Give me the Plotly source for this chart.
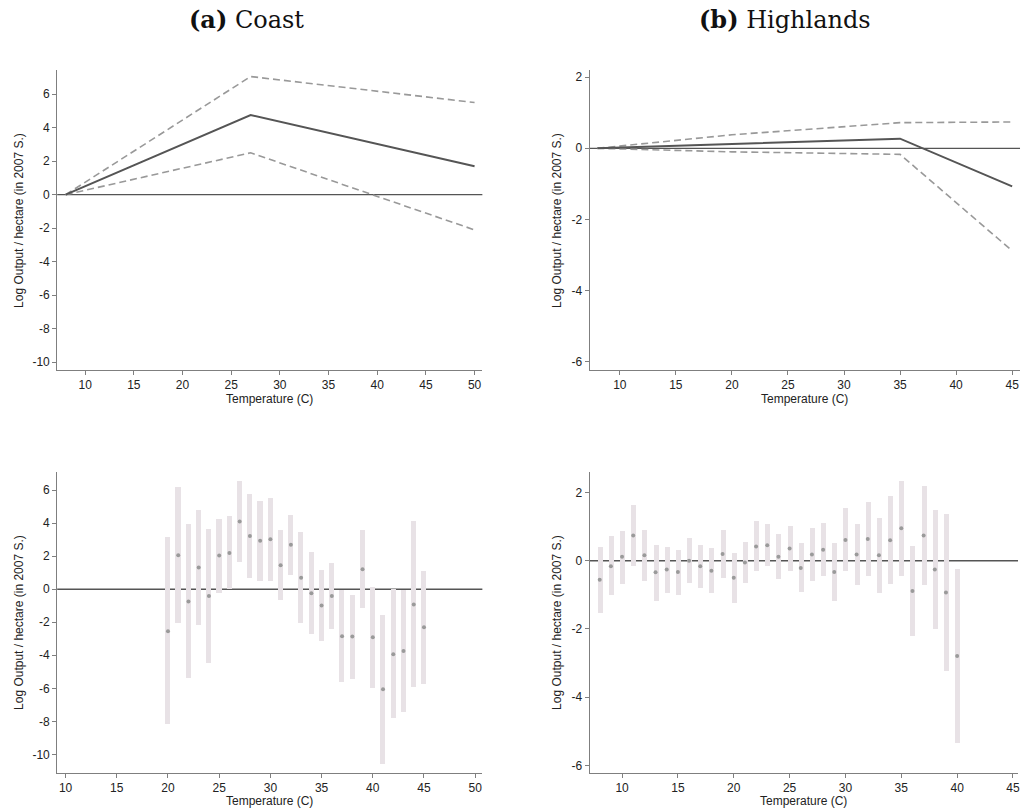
import plotly.graph_objects as go

# ---------------- data ----------------
# Top panels: piecewise linear fit with confidence bands
coast_x = [8, 27, 50]
coast_fit = [0, 4.75, 1.7]
coast_hi = [0, 7.05, 5.5]
coast_lo = [0, 2.5, -2.1]

high_x = [8, 20, 35, 45]
high_fit = [0, 0.12, 0.27, -1.07]
high_hi = [0, 0.38, 0.72, 0.74]
high_lo = [0, -0.10, -0.17, -2.88]

# Bottom panels: binned estimates with CI bars
coast_bins = list(range(20, 46))
coast_pt = [-2.55, 2.06, -0.75, 1.31, -0.41, 2.04, 2.2, 4.1, 3.23, 2.93, 3.03, 1.45, 2.69,
            0.7, -0.24, -0.99, -0.41, -2.85, -2.87, 1.21, -2.91, -6.06, -3.94, -3.74, -0.93, -2.3]
coast_up = [3.15, 6.2, 3.94, 4.81, 3.65, 4.24, 4.44, 6.58, 5.78, 5.35, 5.55, 3.6, 4.5,
            3.49, 2.24, 1.19, 1.6, -0.04, -0.35, 3.6, 0.12, -1.56, 0.0, -0.04, 4.14, 1.11]
coast_dn = [-8.18, -2.02, -5.37, -2.18, -4.45, -0.2, 0.0, 1.64, 0.7, 0.5, 0.52, -0.65, 0.87,
            -2.04, -2.73, -3.11, -2.39, -5.6, -5.44, -1.13, -5.96, -10.6, -7.82, -7.45, -5.9, -5.72]

high_bins = list(range(8, 41))
high_pt = [-0.56, -0.16, 0.12, 0.74, 0.16, -0.34, -0.26, -0.33, 0.0, -0.16, -0.29, 0.2, -0.5,
           -0.05, 0.42, 0.45, 0.12, 0.36, -0.21, 0.18, 0.32, -0.33, 0.61, 0.18, 0.64, 0.16,
           0.6, 0.95, -0.89, 0.74, -0.26, -0.93, -2.79]
high_up = [0.40, 0.72, 0.88, 1.63, 0.9, 0.47, 0.40, 0.32, 0.66, 0.47, 0.36, 0.9, 0.22,
           0.56, 1.16, 1.07, 0.77, 1.02, 0.51, 0.96, 1.12, 0.51, 1.55, 1.07, 1.73, 1.25,
           1.89, 2.33, 0.43, 2.19, 1.5, 1.37, -0.24]
high_dn = [-1.54, -1.0, -0.67, -0.15, -0.59, -1.17, -0.94, -1.0, -0.64, -0.8, -0.94, -0.5, -1.23,
           -0.64, -0.29, -0.16, -0.54, -0.31, -0.92, -0.59, -0.45, -1.17, -0.29, -0.71, -0.45, -0.94,
           -0.68, -0.44, -2.21, -0.7, -2.01, -3.22, -5.33]

panel_titles = ["<b>(a)</b> Coast", "<b>(b)</b> Highlands"]
x_title = "Temperature (C)"
y_title = "Log Output / hectare (in 2007 S.)"

# ---------------- styles ----------------
W, H = 1026, 809
DARK = "#555555"
DASH = "#999999"
AXIS = "#7f7f7f"
BAR = "#e8e2e6"
PT = "#9a9a9a"
FONT = "Liberation Sans, Arial, sans-serif"
SERIF = "DejaVu Serif, Liberation Serif, serif"

def px_x(p):
    return p / W

def px_y(p):
    return 1 - p / H

fig = go.Figure()

dash_line = dict(color=DASH, width=1.6, dash="7px,4px")
fit_line = dict(color=DARK, width=2)

# top-left
fig.add_trace(go.Scatter(x=coast_x, y=coast_hi, mode="lines", line=dash_line, xaxis="x", yaxis="y", showlegend=False))
fig.add_trace(go.Scatter(x=coast_x, y=coast_lo, mode="lines", line=dash_line, xaxis="x", yaxis="y", showlegend=False))
fig.add_trace(go.Scatter(x=coast_x, y=coast_fit, mode="lines", line=fit_line, xaxis="x", yaxis="y", showlegend=False))

# top-right
fig.add_trace(go.Scatter(x=high_x, y=high_hi, mode="lines", line=dash_line, xaxis="x2", yaxis="y2", showlegend=False))
fig.add_trace(go.Scatter(x=high_x, y=high_lo, mode="lines", line=dash_line, xaxis="x2", yaxis="y2", showlegend=False))
fig.add_trace(go.Scatter(x=high_x, y=high_fit, mode="lines", line=fit_line, xaxis="x2", yaxis="y2", showlegend=False))

# bottom-left
fig.add_trace(go.Bar(x=coast_bins, y=[u - d for u, d in zip(coast_up, coast_dn)], base=coast_dn,
                     width=0.5, marker=dict(color=BAR, line=dict(width=0)), xaxis="x3", yaxis="y3", showlegend=False))
fig.add_trace(go.Scatter(x=coast_bins, y=coast_pt, mode="markers", marker=dict(color=PT, size=4), xaxis="x3", yaxis="y3", showlegend=False))

# bottom-right
fig.add_trace(go.Bar(x=high_bins, y=[u - d for u, d in zip(high_up, high_dn)], base=high_dn,
                     width=0.45, marker=dict(color=BAR, line=dict(width=0)), xaxis="x4", yaxis="y4", showlegend=False))
fig.add_trace(go.Scatter(x=high_bins, y=high_pt, mode="markers", marker=dict(color=PT, size=4), xaxis="x4", yaxis="y4", showlegend=False))

def axis(domain, rng, ticks, anchor):
    return dict(domain=domain, range=rng, tickvals=ticks, ticktext=[str(t) for t in ticks],
                showline=True, linecolor=AXIS, linewidth=1, ticks="outside", ticklen=4,
                tickcolor=AXIS, showgrid=False, zeroline=False, anchor=anchor,
                tickfont=dict(family=FONT, size=12, color="#222"))

xl = [px_x(57.3), px_x(483.3)]
xr_top = [px_x(590.7), px_x(1022)]
xr_bot = [px_x(590.7), px_x(1020)]
yt = [px_y(370), px_y(70)]
yb = [px_y(773), px_y(472)]

fig.update_layout(
    width=W, height=H, margin=dict(l=0, r=0, t=0, b=0),
    paper_bgcolor="white", plot_bgcolor="white",
    font=dict(family=FONT, size=12, color="#222"),
    bargap=0,
    xaxis=axis(xl, [7.13, 50.8], list(range(10, 51, 5)), "y"),
    yaxis=axis(yt, [-10.46, 7.44], list(range(-10, 7, 2)), "x"),
    xaxis2=axis(xr_top, [7.3, 45.7], list(range(10, 46, 5)), "y2"),
    yaxis2=axis(yt, [-6.23, 2.2], list(range(-6, 3, 2)), "x2"),
    xaxis3=axis(xl, [9.18, 50.7], list(range(10, 51, 5)), "y3"),
    yaxis3=axis(yb, [-11.13, 7.1], list(range(-10, 7, 2)), "x3"),
    xaxis4=axis(xr_bot, [7.09, 45.45], list(range(10, 46, 5)), "y4"),
    yaxis4=axis(yb, [-6.22, 2.6], list(range(-6, 3, 2)), "x4"),
)

# zero lines (below the bars)
for ax in ["", "2", "3", "4"]:
    fig.add_shape(type="line", xref=f"x{ax} domain", x0=0, x1=1, yref=f"y{ax}", y0=0, y1=0,
                  line=dict(color=DARK, width=1.3), layer="below")

ann = []
for text, cx in zip(panel_titles, [247, 787]):
    ann.append(dict(text=text, x=px_x(cx), y=px_y(20), xref="paper", yref="paper",
                    xanchor="center", yanchor="middle", showarrow=False,
                    font=dict(family=SERIF, size=24, color="#111")))
for cx, cy in [(270, 399), (806, 399), (270, 801), (805, 801)]:
    ann.append(dict(text=x_title, x=px_x(cx), y=px_y(cy), xref="paper", yref="paper",
                    xanchor="center", yanchor="middle", showarrow=False,
                    font=dict(family=FONT, size=12, color="#222")))
for cx, cy in [(19, 220), (558, 220), (19, 622), (558, 622)]:
    ann.append(dict(text=y_title, x=px_x(cx), y=px_y(cy), xref="paper", yref="paper", textangle=-90,
                    xanchor="center", yanchor="middle", showarrow=False,
                    font=dict(family=FONT, size=12, color="#222")))
fig.update_layout(annotations=ann)

fig.write_html("out.html")
